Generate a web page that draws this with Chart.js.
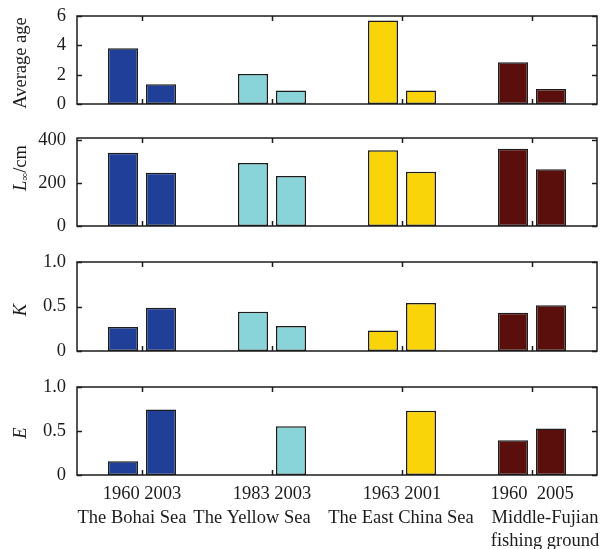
<!DOCTYPE html>
<html>
<head>
<meta charset="utf-8">
<script src="https://cdn.jsdelivr.net/npm/chart.js@4.4.1/dist/chart.umd.min.js"></script>
<style>
  html, body { margin: 0; padding: 0; background: #fff; }
  #wrap { position: relative; width: 603px; height: 549px; overflow: hidden; }
  #wrap canvas { position: absolute; left: 0; }
</style>
</head>
<body>
<div id="wrap">
  <canvas id="p1" style="top:0px"></canvas>
  <canvas id="p2" style="top:124px"></canvas>
  <canvas id="p3" style="top:248px"></canvas>
  <canvas id="p4" style="top:372px"></canvas>
</div>
<script>
/* Four stacked panels: age, L-infinity, K, E by sea area and year */

const regions = ["The Bohai Sea", "The Yellow Sea", "The East China Sea", "Middle-Fujian"];
const regionExtra = ["", "", "", "fishing ground"];
const yearLabels = ["1960 2003", "1983 2003", "1963 2001", "1960  2005"];
const regionColors = ["#1f3f98", "#88d4d9", "#f9d408", "#5a0f0c"];

// first survey year / second survey year
const ageEarly = [3.8, 2.05, 5.7, 2.85];
const ageLate = [1.35, 0.92, 0.92, 1.02];
const lInfEarly = [341, 294, 353, 360];
const lInfLate = [248, 233, 253, 264];
const kEarly = [0.27, 0.44, 0.23, 0.43];
const kLate = [0.485, 0.28, 0.54, 0.515];
const eEarly = [0.155, null, null, 0.395];
const eLate = [0.745, 0.553, 0.73, 0.527];

const ageTicks = [0, 2, 4, 6];
const lInfTicks = [0, 200, 400];
const unitTicks = [0, 0.5, 1.0];

const FONT = "'Liberation Serif', 'Times New Roman', serif";
const INK = "#1c1c1c";

// box around plot area with inward ticks, like the original figure
const framePlugin = {
  id: "frame",
  afterDraw(chart) {
    const { ctx, chartArea: a, scales } = chart;
    ctx.save();
    ctx.strokeStyle = INK;
    ctx.lineWidth = 1.5;
    ctx.strokeRect(a.left, a.top, a.right - a.left, a.bottom - a.top);
    ctx.beginPath();
    scales.y.ticks.forEach((t) => {
      const y = Math.round(scales.y.getPixelForValue(t.value)) + 0.5;
      ctx.moveTo(a.left, y); ctx.lineTo(a.left + 5, y);
      ctx.moveTo(a.right, y); ctx.lineTo(a.right - 5, y);
    });
    for (let i = 0; i < regions.length; i++) {
      const x = Math.round(scales.x.getPixelForValue(i)) + 0.5;
      ctx.moveTo(x, a.top); ctx.lineTo(x, a.top + 5);
      ctx.moveTo(x, a.bottom); ctx.lineTo(x, a.bottom - 5);
    }
    ctx.stroke();
    ctx.restore();
  },
};

// region names under the year labels; the original sets them a bit off-centre
const regionLabelPlugin = {
  id: "regionLabels",
  afterDraw(chart, args, opts) {
    if (!opts.show) return;
    const { ctx, chartArea: a, scales } = chart;
    const shift = [-10, -20, -1, 13];
    ctx.save();
    ctx.fillStyle = INK;
    ctx.font = `18.5px ${FONT}`;
    ctx.textAlign = "center";
    ctx.textBaseline = "middle";
    regions.forEach((r, i) => {
      const x = scales.x.getPixelForValue(i) + shift[i];
      ctx.fillText(r, x, a.bottom + 43);
      if (regionExtra[i]) ctx.fillText(regionExtra[i], x, a.bottom + 66);
    });
    ctx.restore();
  },
};

// rotated y title; parts allow italic symbols and a subscript
const yTitlePlugin = {
  id: "yTitle",
  afterDraw(chart, args, opts) {
    const { ctx } = chart;
    const parts = opts.parts || [];
    ctx.save();
    ctx.translate(opts.x, opts.y);
    ctx.rotate(-Math.PI / 2);
    ctx.fillStyle = INK;
    ctx.textBaseline = "middle";
    let total = 0;
    const sized = parts.map((p) => {
      const f = `${p.italic ? "italic " : ""}${p.size || 18.5}px ${FONT}`;
      ctx.font = f;
      const w = ctx.measureText(p.text).width;
      total += w;
      return { ...p, f, w };
    });
    let x = -total / 2;
    sized.forEach((p) => {
      ctx.font = p.f;
      ctx.textAlign = "left";
      ctx.fillText(p.text, x, p.dy || 0);
      x += p.w;
    });
    ctx.restore();
  },
};

function makePanel(id, height, early, late, ticks, yMax, title, pad, showX) {
  const canvas = document.getElementById(id);
  canvas.style.width = "603px";
  canvas.style.height = height + "px";
  canvas.width = 603;
  canvas.height = height;

  const barStyle = {
    backgroundColor: regionColors,
    borderColor: INK,
    borderWidth: 1.5,
    borderSkipped: false,
    categoryPercentage: 0.585,
    barPercentage: 0.79,
  };

  return new Chart(canvas.getContext("2d"), {
    type: "bar",
    data: {
      labels: yearLabels,
      datasets: [
        { label: "first", data: early, ...barStyle },
        { label: "second", data: late, ...barStyle },
      ],
    },
    options: {
      responsive: false,
      animation: false,
      layout: { padding: { left: 0, right: 6, top: pad.top, bottom: pad.bottom } },
      plugins: {
        legend: { display: false },
        tooltip: { enabled: false },
        yTitle: title,
        regionLabels: { show: showX },
      },
      scales: {
        x: {
          display: showX,
          grid: { display: false, drawTicks: false },
          border: { display: false },
          ticks: {
            color: INK,
            font: { family: FONT, size: 18.5 },
            padding: 8,
            autoSkip: false,
            maxRotation: 0,
          },
          afterFit: (s) => {
            s.height = showX ? 74 : 0;
            s.paddingLeft = 0; s.paddingRight = 0;
          },
        },
        y: {
          min: 0,
          max: yMax,
          grid: { display: false, drawTicks: false },
          border: { display: false },
          ticks: {
            color: INK,
            font: { family: FONT, size: 18.5 },
            padding: 11,
            callback: (v) => (yMax === 1 && v !== 0 ? v.toFixed(1) : v),
          },
          afterBuildTicks: (s) => { s.ticks = ticks.map((v) => ({ value: v })); },
          afterFit: (s) => {
            s.width = 77;
            s.paddingTop = 0; s.paddingBottom = 0;
          },
        },
      },
    },
    plugins: [framePlugin, yTitlePlugin, regionLabelPlugin],
  });
}

document.addEventListener("DOMContentLoaded", () => {
  makePanel("p1", 124, ageEarly, ageLate, ageTicks, 6,
    { x: 21, y: 63, parts: [{ text: "Average age" }] },
    { top: 16, bottom: 20 }, false);

  makePanel("p2", 124, lInfEarly, lInfLate, lInfTicks, 410,
    { x: 21, y: 168 - 124, parts: [
      { text: "L", italic: true },
      { text: "\u221E", size: 11, dy: 4 },
      { text: "/cm" },
    ] },
    { top: 14, bottom: 22 }, false);

  makePanel("p3", 124, kEarly, kLate, unitTicks, 1,
    { x: 21, y: 310 - 248, parts: [{ text: "K", italic: true }] },
    { top: 14, bottom: 21 }, false);

  makePanel("p4", 177, eEarly, eLate, unitTicks, 1,
    { x: 21, y: 433 - 372, parts: [{ text: "E", italic: true }] },
    { top: 15, bottom: 0 }, true);
});
</script>
</body>
</html>
